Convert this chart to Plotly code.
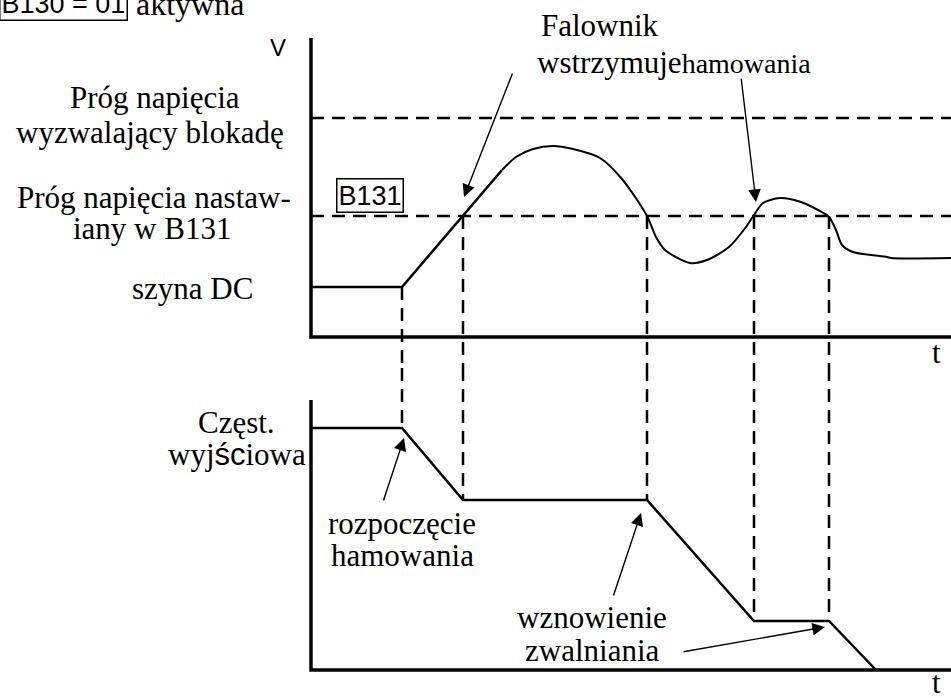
import plotly.graph_objects as go

# time axis: 0 = origin of both graphs (arbitrary units)
t_end = 640

# upper graph: DC bus voltage
v_axis_top = 299
v_block = 219      # próg wyzwalający blokadę
v_b131 = 121       # próg nastawiany w B131
ramp_t = [0, 91, 191]
ramp_v = [50, 50, 167]
hump_t = [191, 205, 222, 242, 262, 289, 311, 336, 345, 354, 379, 396, 418, 435, 443, 452,
          469, 490, 507, 518, 525, 531, 542, 576, 580, 640]
hump_v = [167, 180, 188, 191, 188, 179, 158, 121, 100, 87, 74, 77, 90, 110, 122, 134,
          139, 135, 127, 120, 107, 92, 85, 80, 79, 79]

# lower graph: output frequency
f_axis_top = 270
freq_t = [0, 91, 152, 336, 443, 518, 565]
freq_f = [242, 242, 170, 170, 49, 49, 0]

# vertical guides (event times, start level on V graph, end level on f graph)
event_t = [91, 152, 336, 443, 518]
event_v = [50, 121, 121, 121, 121]
event_f = [242, 170, 170, 49, 49]
v_gap = -31   # where the guides pass from one graph to the other
f_gap = 302

SERIF = "Liberation Serif, Times New Roman, serif"
SANS = "Liberation Sans, Arial, sans-serif"
BLACK = "black"
DASH = "13px,8px"

fig = go.Figure()

# axes
fig.add_trace(go.Scatter(x=[0, 0, t_end], y=[v_axis_top, 0, 0], mode="lines",
                         line=dict(color=BLACK, width=3.5), yaxis="y"))
fig.add_trace(go.Scatter(x=[0, 0, t_end], y=[f_axis_top, 0, 0], mode="lines",
                         line=dict(color=BLACK, width=3.5), yaxis="y2"))

# threshold lines
for lvl in [v_block, v_b131]:
    fig.add_trace(go.Scatter(x=[0, t_end], y=[lvl, lvl], mode="lines",
                             line=dict(color=BLACK, width=2.5, dash=DASH), yaxis="y"))

# vertical guides
for t, v, f in zip(event_t, event_v, event_f):
    fig.add_trace(go.Scatter(x=[t, t], y=[v, v_gap], mode="lines",
                             line=dict(color=BLACK, width=2.5, dash=DASH), yaxis="y"))
    fig.add_trace(go.Scatter(x=[t, t], y=[f_gap, f], mode="lines",
                             line=dict(color=BLACK, width=2.5, dash=DASH), yaxis="y2"))

# voltage curve
fig.add_trace(go.Scatter(x=ramp_t, y=ramp_v, mode="lines",
                         line=dict(color=BLACK, width=2.5), yaxis="y"))
fig.add_trace(go.Scatter(x=hump_t, y=hump_v, mode="lines",
                         line=dict(color=BLACK, width=2, shape="spline", smoothing=0.8), yaxis="y"))

# frequency curve
fig.add_trace(go.Scatter(x=freq_t, y=freq_f, mode="lines",
                         line=dict(color=BLACK, width=2.5), yaxis="y2"))

def label(txt, x, y, yref="y", size=31, font=SERIF, **kw):
    fig.add_annotation(text=txt, x=x, y=y, xref="x", yref=yref, showarrow=False,
                       font=dict(family=font, size=size, color=BLACK), **kw)

def arrow(x, y, ax, ay, yref="y"):
    fig.add_annotation(text="", x=x, y=y, ax=ax, ay=ay, xref="x", yref=yref,
                       axref="x", ayref=yref, showarrow=True, arrowhead=2,
                       arrowsize=1.8, arrowwidth=1.4, arrowcolor=BLACK, standoff=0)

# left labels, upper graph
label("V", -33, 290, font=SANS, size=24)
label("Próg napięcia", -156, 240)
label("wyzwalający blokadę", -161, 205)
label("Próg napięcia nastaw-", -157, 140)
label("iany w B131", -159, 109)
label("szyna DC", -119, 49)
label("B131", 59, 142, font=SANS, size=27, bordercolor=BLACK, borderwidth=1.5, borderpad=1)
label("t", 625, -15)

# top
label("B130 = 01", -248, 334, font=SANS, size=27, bordercolor=BLACK, borderwidth=1.5, borderpad=1)
label("aktywna", -121, 333, size=32)
label("Falownik", 289, 312)
label("wstrzymuje<span style='font-size:28px'>hamowania</span>", 363, 275)
arrow(153, 140, 202, 265)
arrow(445, 135, 430, 260)

# lower graph
label("Częst.", -75, 248, yref="y2")
label("wyj<span style='font-family:Liberation Sans'>śc</span>iowa", -74, 216, yref="y2")
label("rozpoczęcie", 91, 147, yref="y2")
label("hamowania", 91, 115, yref="y2")
label("wznowienie", 281, 53, yref="y2")
label("zwalniania", 281, 20, yref="y2")
label("t", 625, -12, yref="y2")
arrow(93, 232, 72, 168, yref="y2")
arrow(330, 157, 302, 73, yref="y2")
arrow(514, 43, 371, 18, yref="y2")

fig.update_layout(
    width=951, height=698,
    margin=dict(l=0, r=0, t=0, b=0),
    paper_bgcolor="white", plot_bgcolor="white",
    showlegend=False,
    xaxis=dict(range=[-311, 640], visible=False, fixedrange=True),
    yaxis=dict(range=[-361, 337], visible=False, fixedrange=True),
    yaxis2=dict(range=[-28, 670], visible=False, overlaying="y", fixedrange=True),
)

# drop the default page margin so the figure sits at the window's corner
fig.write_html("out.html", config={"displayModeBar": False},
               post_script="document.body.style.margin='0';")
